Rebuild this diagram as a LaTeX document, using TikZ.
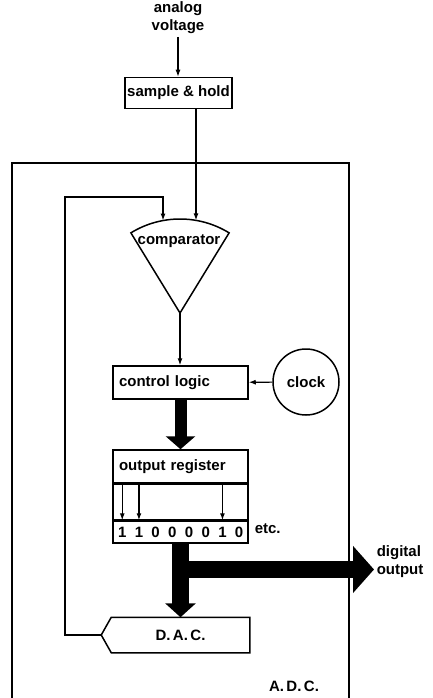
\documentclass[tikz,border=0pt]{standalone}
\usepackage{fontspec}
\setmainfont{Liberation Sans}
\usetikzlibrary{arrows.meta, positioning, calc}

\begin{document}
\begin{tikzpicture}[
  x=1pt, y=-1pt,
  font=\fontsize{15}{18}\selectfont\bfseries,
  line width=1.5pt,
  arr/.style={-{Latex[length=7pt,width=5pt]}, line width=1.2pt},
  bus/.style={line width=15pt, -{Triangle[length=14pt,width=30pt]}},
  box/.style={rectangle, draw=black, line width=1.5pt, minimum height=33pt},
  blk/.style={box, minimum width=135pt, text width=123pt, inner xsep=6pt, align=left},
  lbl/.style={inner sep=2pt, align=center},
]
\useasboundingbox (0,0) rectangle (432,698);

% A.D.C. frame (open at the bottom)
\draw (12,698) -- (12,163) -- (349,163) -- (349,698);
\node[lbl] (adc) at (294,686) {A.\,D.\,C.};

% Input side
\node[lbl] (analog) at (178,18) {analog\\voltage};
\node[box, minimum width=103pt, minimum height=31pt, inner xsep=2pt] (sh) at (178.5,93) {sample \& hold};

% Comparator (circular sector, apex down)
\coordinate (cmptip) at (180,313);
\coordinate (cmpL)   at ($(cmptip)+(121.5:94pt)$);
\coordinate (cmpinA) at ($(cmptip)+(100.4:94pt)$);
\coordinate (cmpinB) at ($(cmptip)+(80.2:94pt)$);
\draw (cmptip) -- (cmpL) arc[start angle=121.5, end angle=58.5, radius=94pt] -- cycle;
\node[lbl] (cmp) at (179,241) {comparator};

% Control and clock
\node[blk] (ctrl) at (180.5,382.5) {control logic};
\node[draw, circle, line width=1.5pt, minimum size=66pt, inner sep=0pt] (clock) at (306,382) {clock};

% Output register
\node[blk] (reg) at (180.5,466.5) {output register};
\node[box, minimum width=135pt, minimum height=35pt, below=0pt of reg] (regmid) {};
\node[box, minimum width=135pt, minimum height=22pt, below=0pt of regmid] (bitrow) {};
\foreach \b [count=\i] in {1,1,0,0,0,0,1,0}
  \node[lbl] (bit\i) at ($(bitrow.west)+(\i*16.7-6.7,0)$) {\b};
\node[lbl, anchor=west] (etc) at (252,529) {etc.};

% D.A.C.
\node[lbl, minimum width=137pt, minimum height=34pt] (dac) at (180.5,635) {D.\,A.\,C.};
\coordinate (dacpt) at ($(dac.west)+(-10pt,0pt)$);
\draw (dac.north west) -- (dac.north east) -- (dac.south east)
      -- (dac.south west) -- (dacpt) -- cycle;

\node[lbl, anchor=west, align=left] (digout) at (374,562) {digital\\output};

% Connections
\draw[arr] (analog.south) -- (sh.north -| analog);
\draw[arr] (sh.south -| cmpinB) -- (cmpinB);
\coordinate (fbcorner) at (65,197);
\draw[arr] (dacpt) -| (fbcorner) -| (cmpinA);
\draw[arr] (cmptip) -- (cmptip |- ctrl.north);
\draw[arr] (clock) -- (ctrl);
\foreach \i in {1,2,7}
  \draw[arr] (reg.south -| bit\i) -- (bitrow.north -| bit\i);

\draw[bus, line width=12pt, -{Triangle[length=13pt,width=29pt]}] (ctrl.south) -- (reg.north);
\draw[bus, line width=17pt] (bitrow.south) -- (dac.north);
\coordinate (split) at ($(bitrow.south)!0.35!(dac.north)$);
\draw[bus, line width=17pt, -{Triangle[length=21pt,width=46pt]}] (split) -- (split -| digout.west);

\end{tikzpicture}
\end{document}
